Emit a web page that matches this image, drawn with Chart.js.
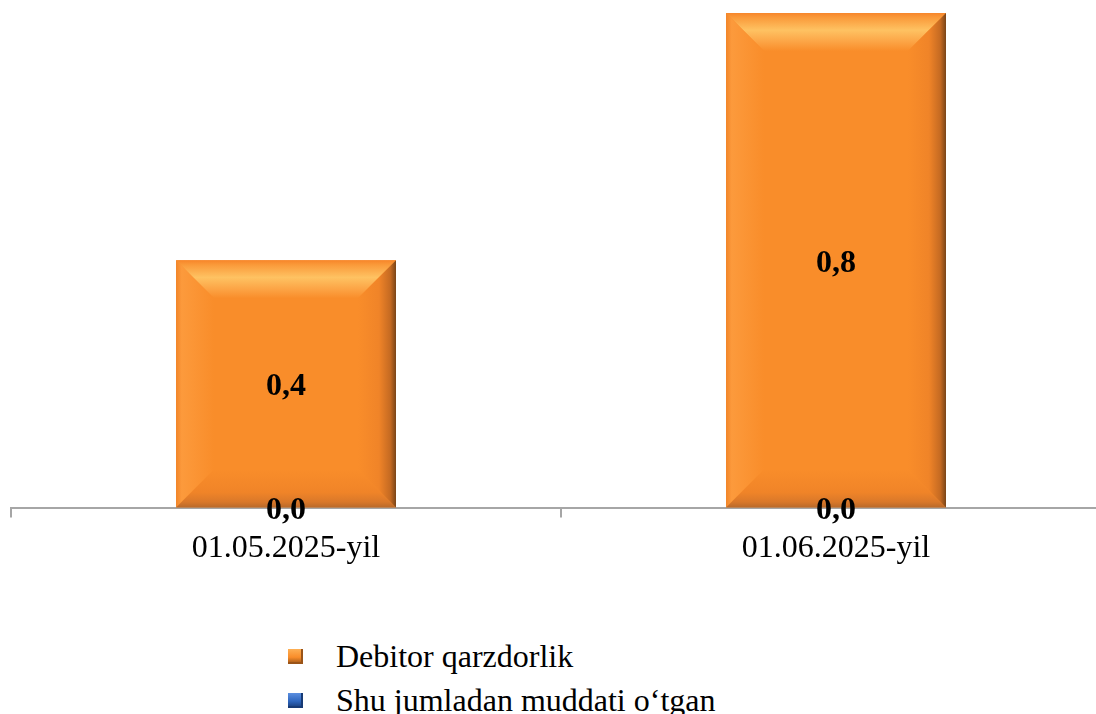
<!DOCTYPE html>
<html>
<head>
<meta charset="utf-8">
<script src="https://cdn.jsdelivr.net/npm/chart.js@4.4.1/dist/chart.umd.min.js"></script>
<style>
  html, body { margin: 0; padding: 0; background: #fff; overflow: hidden; }
  #wrap { position: relative; width: 1112px; height: 600px; }
  #legend { position: absolute; left: 288px; top: 634px; font-family: "Liberation Serif", "Times New Roman", serif; font-size: 32px; color: #000; }
  .item { display: flex; align-items: center; height: 44px; white-space: nowrap; }
  .box { width: 15px; height: 15px; margin-right: 33px; }
</style>
</head>
<body>
<div id="wrap"><canvas id="chart" width="1112" height="600"></canvas></div>
<div id="legend"></div>
<script>
const categories = ["01.05.2025-yil", "01.06.2025-yil"];
const debitor = [0.4, 0.8];
const muddatiOtgan = [0.0, 0.0];
const seriesNames = ["Debitor qarzdorlik", "Shu jumladan muddati o‘tgan"];
const seriesColors = ["#F98D2A", "#2E66BE"];

const FONT = "'Liberation Serif', 'Times New Roman', serif";

// bevel look of the bars
function fillPoly(ctx, pts, grad) {
  ctx.beginPath();
  ctx.moveTo(pts[0][0], pts[0][1]);
  for (let i = 1; i < pts.length; i++) ctx.lineTo(pts[i][0], pts[i][1]);
  ctx.closePath();
  ctx.fillStyle = grad;
  ctx.fill();
}

const bevelPlugin = {
  id: "bevel",
  afterDatasetDraw(chart, args) {
    if (args.index !== 0) return;
    const ctx = chart.ctx;
    ctx.save();
    args.meta.data.forEach(bar => {
      const l = bar.x - bar.width / 2, r = bar.x + bar.width / 2;
      const t = bar.y, b = bar.base;
      const h = b - t;
      if (h < 4) return;
      const s = Math.min(38, h / 2, bar.width / 2);

      let g = ctx.createLinearGradient(0, t, 0, t + s);
      g.addColorStop(0, "#F7862A");
      g.addColorStop(0.12, "#FA9A3A");
      g.addColorStop(0.45, "#FEC262");
      g.addColorStop(0.75, "#FCA546");
      g.addColorStop(1, "#F98D2A");
      fillPoly(ctx, [[l, t], [r, t], [r - s, t + s], [l + s, t + s]], g);

      g = ctx.createLinearGradient(l, 0, l + s, 0);
      g.addColorStop(0, "#F28529");
      g.addColorStop(0.15, "#FC9A3C");
      g.addColorStop(1, "#F98D2A");
      fillPoly(ctx, [[l, t], [l + s, t + s], [l + s, b - s], [l, b]], g);

      g = ctx.createLinearGradient(0, b - s, 0, b);
      g.addColorStop(0, "#F98D2A");
      g.addColorStop(0.6, "#F08428");
      g.addColorStop(0.85, "#D9782A");
      g.addColorStop(1, "#B8692A");
      fillPoly(ctx, [[l, b], [l + s, b - s], [r - s, b - s], [r, b]], g);

      g = ctx.createLinearGradient(r - s, 0, r, 0);
      g.addColorStop(0, "#F98D2A");
      g.addColorStop(0.55, "#F08428");
      g.addColorStop(0.85, "#C56A22");
      g.addColorStop(1, "#7A4518");
      fillPoly(ctx, [[r, t], [r, b], [r - s, b - s], [r - s, t + s]], g);
    });
    ctx.restore();
  }
};

// value labels in the middle of each bar
const labelPlugin = {
  id: "valueLabels",
  afterDatasetsDraw(chart) {
    const ctx = chart.ctx;
    ctx.save();
    ctx.font = "bold 32px " + FONT;
    ctx.fillStyle = "#000";
    ctx.textAlign = "center";
    ctx.textBaseline = "middle";
    chart.data.datasets.forEach((ds, i) => {
      chart.getDatasetMeta(i).data.forEach((bar, j) => {
        const txt = ds.data[j].toFixed(1).replace(".", ",");
        ctx.fillText(txt, bar.x, (bar.y + bar.base) / 2 + 3);
      });
    });
    ctx.restore();
  }
};

const chart = new Chart(document.getElementById("chart"), {
  type: "bar",
  data: {
    labels: categories,
    datasets: [
      { label: seriesNames[0], data: debitor, backgroundColor: seriesColors[0], grouped: false, barPercentage: 0.4, categoryPercentage: 1, order: 2 },
      { label: seriesNames[1], data: muddatiOtgan, backgroundColor: seriesColors[1], grouped: false, barPercentage: 0.4, categoryPercentage: 1, order: 1 }
    ]
  },
  options: {
    responsive: false,
    animation: false,
    layout: { padding: { left: 11, top: 13, right: 1, bottom: 20 } },
    plugins: { legend: { display: false }, tooltip: { enabled: false } },
    scales: {
      x: {
        grid: { offset: true, drawOnChartArea: false, color: "#A6A6A6", lineWidth: 2, tickLength: 10 },
        border: { color: "#A6A6A6", width: 2 },
        ticks: { color: "#000", font: { family: FONT, size: 32 }, padding: 12 }
      },
      y: { display: false, min: 0, max: 0.8 }
    }
  },
  plugins: [bevelPlugin, labelPlugin]
});

// legend built from the datasets
const legend = document.getElementById("legend");
chart.data.datasets.forEach((ds, i) => {
  const c = seriesColors[i];
  const item = document.createElement("div");
  item.className = "item";
  const dark = i === 0 ? "#9A5418" : "#173A75";
  const light = i === 0 ? "#FDB055" : "#5C8FE0";
  item.innerHTML = `<span class="box" style="background: linear-gradient(to bottom, ${light}, ${c} 55%, ${dark}); box-shadow: inset -2px -2px 0 ${dark};"></span><span>${ds.label}</span>`;
  legend.appendChild(item);
});
</script>
</body>
</html>
